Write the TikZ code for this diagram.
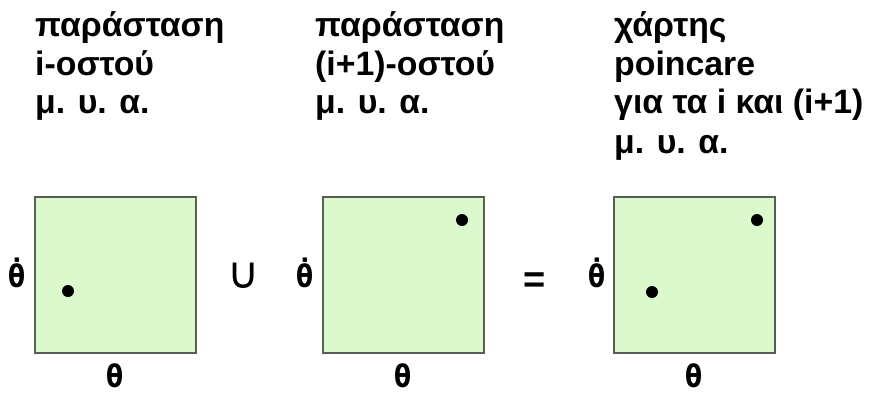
\documentclass[tikz,border=0pt]{standalone}
\usepackage{fontspec}
\usepackage{graphicx}
\setmainfont{Liberation Sans}
\newfontfamily\symfont{DejaVu Sans}
\definecolor{boxfill}{RGB}{218,250,206}
\definecolor{boxline}{RGB}{85,95,85}
\newcommand{\axtext}[1]{\scalebox{0.8}[1]{#1}}
\begin{document}
\begin{tikzpicture}[x=1pt,y=-1pt,
  head/.style={anchor=base west,inner sep=0pt,font=\bfseries\fontsize{33.8}{36}\selectfont},
  axis/.style={inner sep=0pt,anchor=base,font=\symfont\bfseries\fontsize{31}{32}\selectfont},
  panel/.style={draw=boxline,line width=1.2pt,fill=boxfill},
  pt/.style={fill=black,circle,inner sep=0pt,minimum size=12pt},
  op/.style={inner sep=0pt}]
\useasboundingbox (0,0) rectangle (870,392);
% headers
\node[head] (a1) at (35,36) {παράσταση};
\node[head] (a2) at (35,75) {i-οστού};
\node[head] (a3) at (35,113) {μ. υ. α.};
\node[head] (b1) at (315,36) {παράσταση};
\node[head] (b2) at (315,75) {(i+1)-οστού};
\node[head] (b3) at (315,113) {μ. υ. α.};
\node[head] (c1) at (614,36) {χάρτης};
\node[head] (c2) at (614,75) {poincare};
\node[head] (c3) at (614,113) {για τα i και (i+1)};
\node[head] (c4) at (614,153) {μ. υ. α.};
% panels
\draw[panel] (35,197) rectangle (196,353);
\draw[panel] (323,197) rectangle (484,353);
\draw[panel] (614,197) rectangle (775,353);
% points
\node[pt] (p1) at (68,291) {};
\node[pt] (p2) at (462,220) {};
\node[pt] (p3) at (652,292) {};
\node[pt] (p4) at (757,220) {};
% axis labels
\node[axis] (y1) at (17,287) {\axtext{θ̇}};
\node[axis] (y2) at (305,287) {\axtext{θ̇}};
\node[axis] (y3) at (597,287) {\axtext{θ̇}};
\node[axis] (x1) at (115.5,387) {\axtext{θ}};
\node[axis] (x2) at (403.5,387) {\axtext{θ}};
\node[axis] (x3) at (694.5,387) {\axtext{θ}};
% operators
\node[op,font=\symfont\fontsize{44}{44}\selectfont] (u) at (244,276) {∪};
\node[op,font=\bfseries\fontsize{38}{38}\selectfont] (eq) at (535,283) {=};
\end{tikzpicture}
\end{document}
